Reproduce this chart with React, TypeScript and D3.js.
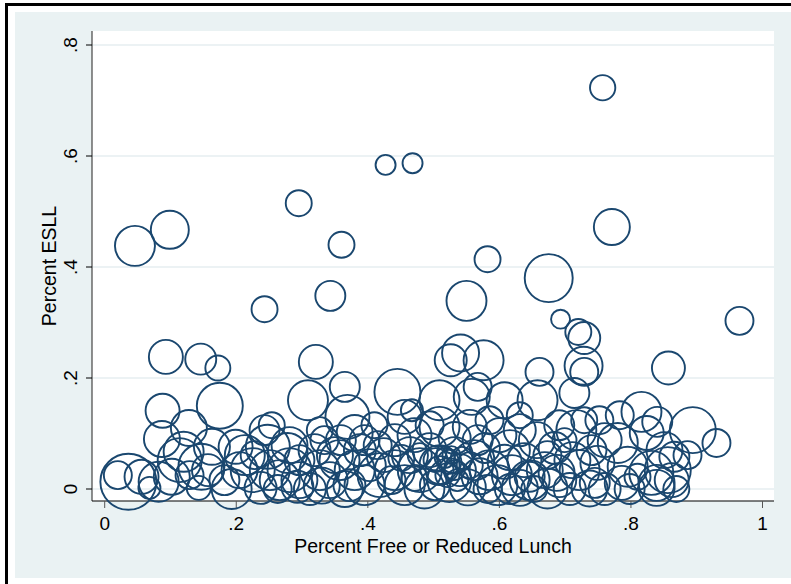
import * as d3 from "d3";

// Percent free or reduced lunch (x), percent ESLL (y), enrollment (marker weight)
const frl = [
  0.757, 0.427, 0.468, 0.295, 0.046, 0.099, 0.360, 0.771, 0.582, 0.675,
  0.243, 0.343, 0.550, 0.693, 0.720, 0.729, 0.965, 0.093, 0.146, 0.172,
  0.321, 0.526, 0.541, 0.576, 0.661, 0.728, 0.729, 0.857, 0.175, 0.088,
  0.128, 0.087, 0.120, 0.309, 0.365, 0.445, 0.456, 0.369, 0.380, 0.254,
  0.248, 0.278, 0.509, 0.558, 0.608, 0.658, 0.714, 0.509, 0.555, 0.657,
  0.717, 0.616, 0.711, 0.646, 0.687, 0.816, 0.840, 0.894, 0.930, 0.824,
  0.851, 0.856, 0.831, 0.839, 0.839, 0.795, 0.780, 0.760, 0.749, 0.745,
  0.786, 0.810, 0.862, 0.866, 0.729, 0.036, 0.056, 0.082, 0.102, 0.114,
  0.147, 0.163, 0.143, 0.193, 0.157, 0.205, 0.213, 0.199, 0.225, 0.237,
  0.266, 0.251, 0.281, 0.296, 0.312, 0.327, 0.342, 0.357, 0.365, 0.380,
  0.388, 0.281, 0.319, 0.334, 0.350, 0.296, 0.263, 0.293, 0.330, 0.372,
  0.395, 0.403, 0.418, 0.424, 0.441, 0.456, 0.464, 0.479, 0.486, 0.494,
  0.509, 0.524, 0.532, 0.540, 0.552, 0.562, 0.570, 0.578, 0.585, 0.597,
  0.608, 0.619, 0.631, 0.638, 0.646, 0.669, 0.673, 0.691, 0.707, 0.722,
  0.737, 0.760, 0.798, 0.517, 0.524, 0.532, 0.543, 0.555, 0.521, 0.536,
  0.509, 0.503, 0.527, 0.441, 0.471, 0.532, 0.567, 0.600, 0.631, 0.684,
  0.691, 0.415, 0.451, 0.479, 0.436, 0.471, 0.502, 0.582, 0.616, 0.653,
  0.228, 0.182, 0.129, 0.068, 0.020, 0.327, 0.243, 0.359, 0.395, 0.410,
  0.494, 0.585, 0.631, 0.783, 0.752, 0.886, 0.869, 0.673, 0.699, 0.740,
  0.467, 0.567,
];

const esll = [
  0.723, 0.584, 0.587, 0.515, 0.438, 0.467, 0.440, 0.472, 0.414, 0.380,
  0.324, 0.348, 0.339, 0.306, 0.283, 0.272, 0.303, 0.238, 0.234, 0.218,
  0.229, 0.232, 0.245, 0.232, 0.211, 0.222, 0.211, 0.218, 0.150, 0.141,
  0.110, 0.090, 0.067, 0.160, 0.184, 0.175, 0.130, 0.130, 0.101, 0.115,
  0.076, 0.065, 0.160, 0.166, 0.160, 0.160, 0.173, 0.112, 0.112, 0.088,
  0.106, 0.070, 0.052, 0.022, 0.029, 0.139, 0.121, 0.106, 0.083, 0.101,
  0.070, 0.034, 0.029, 0.011, 0.002, 0.040, 0.083, 0.088, 0.047, 0.011,
  0.011, 0.022, 0.016, 0.058, 0.124, 0.013, 0.022, 0.013, 0.022, 0.052,
  0.040, 0.076, 0.002, 0.000, 0.034, 0.034, 0.061, 0.076, 0.034, 0.002,
  0.016, 0.034, 0.034, 0.016, 0.000, 0.034, 0.016, 0.052, 0.000, 0.034,
  0.070, 0.079, 0.070, 0.088, 0.061, 0.052, 0.000, 0.004, 0.006, 0.007,
  0.007, 0.043, 0.025, 0.061, 0.034, 0.007, 0.061, 0.034, 0.001, 0.070,
  0.043, 0.016, 0.061, 0.034, 0.003, 0.052, 0.023, 0.074, 0.034, 0.007,
  0.049, 0.025, 0.002, 0.052, 0.016, 0.034, 0.001, 0.016, 0.000, 0.034,
  0.001, 0.000, 0.000, 0.056, 0.049, 0.034, 0.056, 0.043, 0.025, 0.016,
  0.034, 0.052, 0.061, 0.088, 0.097, 0.092, 0.088, 0.097, 0.106, 0.074,
  0.115, 0.079, 0.056, 0.061, 0.016, 0.020, 0.007, 0.000, 0.000, 0.000,
  0.061, 0.016, 0.025, 0.002, 0.025, 0.106, 0.106, 0.088, 0.088, 0.115,
  0.115, 0.124, 0.133, 0.133, 0.124, 0.061, 0.000, 0.061, 0.088, 0.070,
  0.142, 0.184,
];

const enroll = [
  160, 100, 100, 169, 400, 361, 169, 324, 169, 576,
  169, 225, 400, 90, 169, 256, 196, 289, 240, 156,
  289, 256, 342, 400, 196, 361, 196, 272, 529, 289,
  324, 324, 400, 400, 225, 529, 289, 484, 324, 169,
  484, 400, 400, 324, 324, 400, 225, 400, 289, 324,
  400, 400, 324, 225, 324, 400, 225, 529, 196, 289,
  324, 529, 484, 324, 324, 400, 400, 289, 289, 225,
  289, 169, 289, 225, 169, 784, 289, 400, 324, 484,
  529, 324, 144, 400, 256, 324, 400, 289, 484, 256,
  400, 400, 484, 324, 256, 400, 324, 400, 324, 400,
  256, 324, 256, 196, 324, 225, 196, 256, 324, 256,
  400, 256, 484, 289, 400, 400, 324, 484, 400, 289,
  400, 484, 324, 256, 324, 400, 324, 225, 400, 400,
  289, 400, 324, 289, 400, 324, 400, 289, 256, 400,
  324, 256, 225, 100, 144, 100, 121, 169, 144, 121,
  196, 144, 81, 256, 289, 256, 225, 289, 256, 256,
  225, 196, 169, 144, 196, 169, 225, 196, 225, 169,
  196, 225, 196, 121, 196, 169, 225, 225, 225, 169,
  196, 196, 169, 196, 196, 196, 169, 196, 144, 225,
  121, 196,
];

const xTicks = [0, 0.2, 0.4, 0.6, 0.8, 1];
const yTicks = [0, 0.2, 0.4, 0.6, 0.8];
const fmt = (v: number) => (v === 0 ? "0" : v === 1 ? "1" : String(v).replace(/^0/, ""));

export default function App() {
  const W = 791;
  const H = 584;
  const plot = { left: 92, right: 774, top: 31, bottom: 501 };

  const x = d3.scaleLinear().domain([0, 1]).range([104.7, 762.5]);
  const y = d3.scaleLinear().domain([0, 0.8]).range([489, 45]);
  const r = d3.scaleSqrt().domain([0, 900]).range([0, 30]);

  const font = "'Liberation Sans', Arial, sans-serif";
  const navy = "#1a476f";
  const idx = d3.range(frl.length);

  return (
    <svg
      width={W}
      height={H}
      style={{ position: "absolute", left: 0, top: 0, display: "block", background: "#fff" }}
      fontFamily={font}
    >
      <rect x={6.5} y={4.5} width={820} height={620} fill="#fff" stroke="#000" strokeWidth={3} />
      <rect x={15} y={12} width={W - 15} height={578 - 12} fill="#eaf2f3" />
      <rect x={plot.left} y={plot.top} width={plot.right - plot.left} height={plot.bottom - plot.top} fill="#fff" />

      {yTicks.map((t) => (
        <line key={"g" + t} x1={plot.left} x2={plot.right} y1={y(t)} y2={y(t)} stroke="#e6eef0" strokeWidth={1.5} />
      ))}

      <line x1={plot.left} x2={plot.left} y1={plot.top} y2={plot.bottom} stroke="#444" strokeWidth={1.2} />
      <line x1={plot.left} x2={plot.right} y1={plot.bottom} y2={plot.bottom} stroke="#000" strokeWidth={1.2} />

      {yTicks.map((t) => (
        <g key={"y" + t}>
          <line x1={plot.left - 6} x2={plot.left} y1={y(t)} y2={y(t)} stroke="#000" strokeWidth={1} />
          <text transform={`translate(77,${y(t)}) rotate(-90)`} textAnchor="middle" fontSize={19} fill="#000">
            {fmt(t)}
          </text>
        </g>
      ))}

      {xTicks.map((t) => (
        <g key={"x" + t}>
          <line x1={x(t)} x2={x(t)} y1={plot.bottom} y2={plot.bottom + 7} stroke="#555" strokeWidth={1} />
          <text x={x(t)} y={530} textAnchor="middle" fontSize={19} fill="#000">
            {fmt(t)}
          </text>
        </g>
      ))}

      <text transform={`translate(56,${(plot.top + plot.bottom) / 2}) rotate(-90)`} textAnchor="middle" fontSize={19.5} fill="#000">
        Percent ESLL
      </text>
      <text x={(plot.left + plot.right) / 2} y={553} textAnchor="middle" fontSize={19.5} fill="#000">
        Percent Free or Reduced Lunch
      </text>

      <g fill="none" stroke={navy} strokeWidth={1.9}>
        {idx.map((i) => (
          <circle key={i} cx={x(frl[i])} cy={y(esll[i])} r={r(enroll[i])} />
        ))}
      </g>
    </svg>
  );
}
